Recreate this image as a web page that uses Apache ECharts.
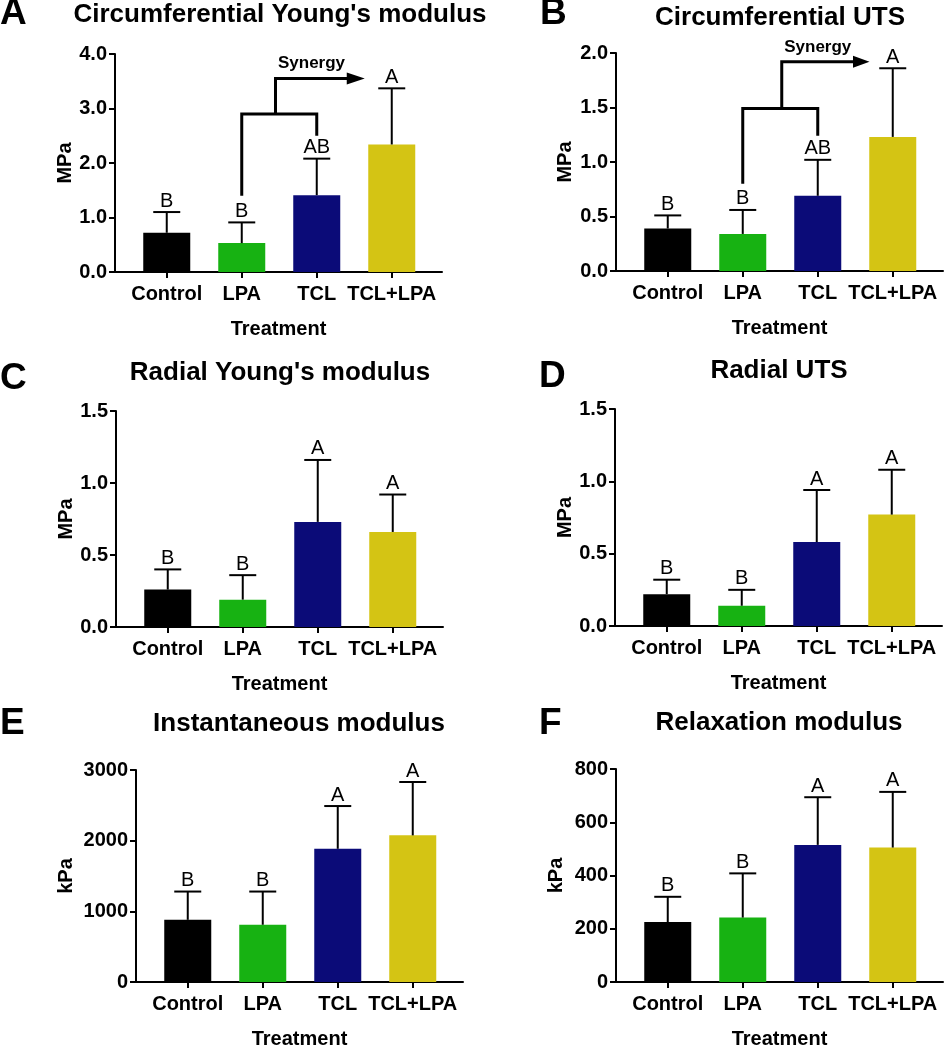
<!DOCTYPE html>
<html>
<head>
<meta charset="utf-8">
<script src="https://cdn.jsdelivr.net/npm/echarts@6/dist/echarts.min.js"></script>
<style>html,body{margin:0;padding:0;background:#fff}#chart{width:944px;height:1050px}</style>
</head>
<body>
<div id="chart"></div>
<script>
// ---------- data ----------
const categories = ['Control', 'LPA', 'TCL', 'TCL+LPA'];
const barColors = ['#000000', '#17b212', '#0b0b78', '#d4c414'];

const circYoungMean = [0.72, 0.53, 1.41, 2.34];
const circYoungUpper = [1.10, 0.91, 2.08, 3.37];
const circYoungLetters = ['B', 'B', 'AB', 'A'];

const circUTSMean = [0.39, 0.34, 0.69, 1.23];
const circUTSUpper = [0.51, 0.56, 1.02, 1.86];
const circUTSLetters = ['B', 'B', 'AB', 'A'];

const radYoungMean = [0.26, 0.19, 0.73, 0.66];
const radYoungUpper = [0.40, 0.36, 1.16, 0.92];
const radYoungLetters = ['B', 'B', 'A', 'A'];

const radUTSMean = [0.22, 0.14, 0.58, 0.77];
const radUTSUpper = [0.32, 0.25, 0.94, 1.08];
const radUTSLetters = ['B', 'B', 'A', 'A'];

const instMean = [880, 810, 1885, 2075];
const instUpper = [1280, 1280, 2490, 2830];
const instLetters = ['B', 'B', 'A', 'A'];

const relaxMean = [225, 242, 515, 505];
const relaxUpper = [320, 408, 694, 714];
const relaxLetters = ['B', 'B', 'A', 'A'];

// synergy bracket annotation (data units)
const synergyA = { leftX: 1, rightX: 2, leftBottom: 1.40, bracketY: 2.90, rightBottom: 2.50, riserX: 1.45, riserTop: 3.55, headX: 2.40, tipX: 2.64, textX: 1.93, textY: 3.82 };
const synergyB = { leftX: 1, rightX: 2, leftBottom: 0.80, bracketY: 1.49, rightBottom: 1.24, riserX: 1.52, riserTop: 1.92, headX: 2.47, tipX: 2.69, textX: 2.0, textY: 2.05 };

// ---------- layout ----------
const FONT = '"Liberation Sans", Arial, Helvetica, sans-serif';
const panels = [
  { letter: 'A', title: "Circumferential Young's modulus", unit: 'MPa', mean: circYoungMean, upper: circYoungUpper, letters: circYoungLetters, max: 4, interval: 1, dec: 1,
    grid: { left: 115, top: 54, height: 218 }, yGap: 39, titleX: 280, titleY: 2, letterX: 0, letterY: -5, synergy: synergyA },
  { letter: 'B', title: 'Circumferential UTS', unit: 'MPa', mean: circUTSMean, upper: circUTSUpper, letters: circUTSLetters, max: 2, interval: 0.5, dec: 1,
    grid: { left: 616, top: 53, height: 218 }, yGap: 41, titleX: 780, titleY: 5, letterX: 540, letterY: -5, synergy: synergyB },
  { letter: 'C', title: "Radial Young's modulus", unit: 'MPa', mean: radYoungMean, upper: radYoungUpper, letters: radYoungLetters, max: 1.5, interval: 0.5, dec: 1,
    grid: { left: 116, top: 411, height: 216 }, yGap: 40, titleX: 280, titleY: 360, letterX: 0, letterY: 360 },
  { letter: 'D', title: 'Radial UTS', unit: 'MPa', mean: radUTSMean, upper: radUTSUpper, letters: radUTSLetters, max: 1.5, interval: 0.5, dec: 1,
    grid: { left: 615, top: 409, height: 217 }, yGap: 40, titleX: 779, titleY: 358, letterX: 539, letterY: 358 },
  { letter: 'E', title: 'Instantaneous modulus', unit: 'kPa', mean: instMean, upper: instUpper, letters: instLetters, max: 3000, interval: 1000, dec: 0,
    grid: { left: 136, top: 770, height: 216 }, yGap: 60, titleX: 299, titleY: 711, letterX: 0, letterY: 705 },
  { letter: 'F', title: 'Relaxation modulus', unit: 'kPa', mean: relaxMean, upper: relaxUpper, letters: relaxLetters, max: 800, interval: 200, dec: 0,
    grid: { left: 616, top: 769, height: 217 }, yGap: 50, titleX: 779, titleY: 710, letterX: 539, letterY: 705 }
];

const X_MIN = -0.69, X_MAX = 3.67, PLOT_W = 327;
const axisLineStyle = { color: '#000', width: 2 };
const tickText = { color: '#000', fontSize: 20, fontWeight: 'bold', fontFamily: FONT };

const option = { animation: false, backgroundColor: '#fff', grid: [], xAxis: [], yAxis: [], series: [], graphic: [] };

panels.forEach((p, i) => {
  option.grid.push({ left: p.grid.left, top: p.grid.top, width: PLOT_W, height: p.grid.height, containLabel: false });
  option.xAxis.push({
    gridIndex: i, type: 'value', min: X_MIN, max: X_MAX,
    axisLine: { show: true, onZero: false, lineStyle: axisLineStyle },
    axisTick: { show: true, customValues: [0, 1, 2, 3], length: 6, lineStyle: axisLineStyle },
    axisLabel: { show: true, customValues: [0, 1, 2, 3], formatter: v => categories[Math.round(v)], margin: 12, ...tickText },
    splitLine: { show: false },
    name: 'Treatment', nameLocation: 'middle', nameGap: 47,
    nameTextStyle: { ...tickText }
  });
  option.yAxis.push({
    gridIndex: i, type: 'value', min: 0, max: p.max, interval: p.interval,
    axisLine: { show: true, onZero: false, lineStyle: axisLineStyle },
    axisTick: { show: true, length: 6, lineStyle: axisLineStyle },
    axisLabel: { formatter: v => v.toFixed(p.dec), margin: 8, ...tickText },
    splitLine: { show: false },
    name: p.unit, nameLocation: 'middle', nameGap: p.yGap,
    nameTextStyle: { ...tickText }
  });
  option.series.push({
    type: 'bar', xAxisIndex: i, yAxisIndex: i, barWidth: 47, z: 2,
    data: p.mean.map((v, k) => ({ value: [k, v], itemStyle: { color: barColors[k] } }))
  });
  const letters = p.letters;
  option.series.push({
    type: 'custom', xAxisIndex: i, yAxisIndex: i, z: 3,
    data: p.mean.map((v, k) => [k, v, p.upper[k]]),
    renderItem: (params, api) => {
      const x = api.value(0), m = api.value(1), u = api.value(2);
      const b = api.coord([x, m]);
      const t = api.coord([x, u]);
      return {
        type: 'group', children: [
          { type: 'line', shape: { x1: b[0], y1: b[1], x2: t[0], y2: t[1] }, style: { stroke: '#000', lineWidth: 2 } },
          { type: 'line', shape: { x1: t[0] - 13.5, y1: t[1], x2: t[0] + 13.5, y2: t[1] }, style: { stroke: '#000', lineWidth: 2 } },
          { type: 'text', x: t[0], y: t[1] - 1, style: { text: letters[params.dataIndex], fill: '#000', fontSize: 20, fontFamily: FONT, align: 'center', verticalAlign: 'bottom' } }
        ]
      };
    }
  });
  if (p.synergy) {
    const s = p.synergy;
    option.series.push({
      type: 'custom', xAxisIndex: i, yAxisIndex: i, z: 4,
      data: [[0]],
      renderItem: (params, api) => {
        const lb = api.coord([s.leftX, s.leftBottom]);
        const lt = api.coord([s.leftX, s.bracketY]);
        const rt = api.coord([s.rightX, s.bracketY]);
        const rb = api.coord([s.rightX, s.rightBottom]);
        const r0 = api.coord([s.riserX, s.bracketY]);
        const r1 = api.coord([s.riserX, s.riserTop]);
        const h = api.coord([s.headX, s.riserTop]);
        const tip = api.coord([s.tipX, s.riserTop]);
        const txt = api.coord([s.textX, s.textY]);
        const st = { stroke: '#000', lineWidth: 3, fill: null, lineJoin: 'miter' };
        return {
          type: 'group', children: [
            { type: 'polyline', shape: { points: [lb, lt, rt, rb] }, style: st },
            { type: 'polyline', shape: { points: [r0, r1, [h[0] + 1, h[1]]] }, style: st },
            { type: 'polygon', shape: { points: [[h[0], h[1] - 6], tip, [h[0], h[1] + 6]] }, style: { fill: '#000' } },
            { type: 'text', x: txt[0], y: txt[1], style: { text: 'Synergy', fill: '#000', fontSize: 17, fontWeight: 'bold', fontFamily: FONT, align: 'center', verticalAlign: 'middle' } }
          ]
        };
      }
    });
  }
  option.graphic.push({ type: 'text', left: p.letterX, top: p.letterY, style: { text: p.letter, fill: '#000', fontSize: 37, fontWeight: 'bold', fontFamily: FONT } });
  option.graphic.push({ type: 'text', x: p.titleX, y: p.titleY, style: { text: p.title, fill: '#000', fontSize: 26, fontWeight: 'bold', fontFamily: FONT, align: 'center', verticalAlign: 'top' } });
});

const chart = echarts.init(document.getElementById('chart'), null, { renderer: 'canvas' });
chart.setOption(option);
</script>
</body>
</html>
